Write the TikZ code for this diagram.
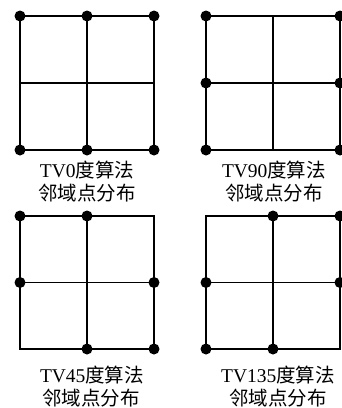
\documentclass[tikz,border=0pt]{standalone}
\usepackage{fontspec}
\setmainfont{Liberation Serif}
\newfontfamily\cjk{Noto Sans CJK SC}
\begin{document}
\begin{tikzpicture}[x=1pt,y=-1pt,
  gridline/.style={line width=1.9pt,line cap=rect},
  dot/.style={circle,fill=black,draw=none,inner sep=0pt,minimum size=11pt},
  lbl/.style={font=\fontsize{19.5}{23}\selectfont,inner sep=0pt,anchor=center}]
\useasboundingbox (0,0) rectangle (341,408);
\foreach \p/\xa/\ya/\xb/\yb in {A/20/16/154/150, B/206/16/340/150, C/20/216/154/349, D/206/216/340/349}{
  \coordinate (\p-11) at (\xa,\ya);
  \coordinate (\p-12) at ({(\xa+\xb)/2},\ya);
  \coordinate (\p-13) at (\xb,\ya);
  \coordinate (\p-21) at (\xa,{(\ya+\yb)/2});
  \coordinate (\p-22) at ({(\xa+\xb)/2},{(\ya+\yb)/2});
  \coordinate (\p-23) at (\xb,{(\ya+\yb)/2});
  \coordinate (\p-31) at (\xa,\yb);
  \coordinate (\p-32) at ({(\xa+\xb)/2},\yb);
  \coordinate (\p-33) at (\xb,\yb);
  \draw[gridline] (\p-11) rectangle (\p-33);
  \draw[gridline] (\p-12) -- (\p-32);
  \draw[gridline] (\p-21) -- (\p-23);
}
% TV0: top and bottom rows
\foreach \k in {11,12,13,31,32,33}{\node[dot] (A-d\k) at (A-\k) {};}
% TV90: left and right columns
\foreach \k in {11,21,31,13,23,33}{\node[dot] (B-d\k) at (B-\k) {};}
% TV45
\foreach \k in {11,12,21,23,32,33}{\node[dot] (C-d\k) at (C-\k) {};}
% TV135
\foreach \k in {12,13,21,23,31,32}{\node[dot] (D-d\k) at (D-\k) {};}
% labels
\node[lbl] (A-t1) at (87,170) {TV0{\cjk 度算法}};
\node[lbl] (A-t2) at (87,193) {\cjk 邻域点分布};
\node[lbl] (B-t1) at (274,170) {TV90{\cjk 度算法}};
\node[lbl] (B-t2) at (274,193) {\cjk 邻域点分布};
\node[lbl] (C-t1) at (92,375) {TV45{\cjk 度算法}};
\node[lbl] (C-t2) at (91,398) {\cjk 邻域点分布};
\node[lbl] (D-t1) at (278,375) {TV135{\cjk 度算法}};
\node[lbl] (D-t2) at (278,398) {\cjk 邻域点分布};
\end{tikzpicture}
\end{document}
